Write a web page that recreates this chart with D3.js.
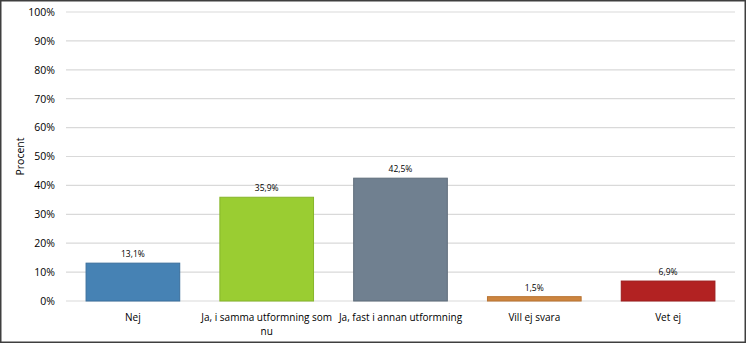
<!DOCTYPE html>
<html>
<head>
<meta charset="utf-8">
<script src="https://cdn.jsdelivr.net/npm/d3@7"></script>
<style>
  body { margin: 0; background: #fff; }
  svg { display: block; font-family: "Open Sans", sans-serif; }
</style>
</head>
<body>
<svg id="chart" width="746" height="344"></svg>
<script>
var categories = ["Nej", "Ja, i samma utformning som nu", "Ja, fast i annan utformning", "Vill ej svara", "Vet ej"];
var values = [13.1, 35.9, 42.5, 1.5, 6.9];
var valueLabels = ["13,1%", "35,9%", "42,5%", "1,5%", "6,9%"];
var yTicks = [0, 10, 20, 30, 40, 50, 60, 70, 80, 90, 100];
var colors = ["#4682B4", "#9ACD32", "#708090", "#CD853F", "#B22222"];
var strokes = ["#3a6f9c", "#86b52a", "#5f6d7b", "#b87332", "#9c1c1c"];

var WIDTH = 746, HEIGHT = 344,
    MARGINS = { top: 12, right: 11, bottom: 43, left: 66 };

var svg = d3.select("#chart");

svg.append("rect")
   .attr("x", 0.75).attr("y", 0.75)
   .attr("width", WIDTH - 1.5).attr("height", HEIGHT - 2.5)
   .attr("fill", "#fff")
   .attr("stroke", "#3f3f3f")
   .attr("stroke-width", 1.5);

var xScale = d3.scaleBand()
    .domain(categories)
    .range([MARGINS.left, WIDTH - MARGINS.right])
    .paddingInner(0.3)
    .paddingOuter(0.15);

var yScale = d3.scaleLinear()
    .domain([0, 100])
    .range([HEIGHT - MARGINS.bottom, MARGINS.top]);

// grid
svg.append("g")
   .selectAll("line")
   .data(yTicks)
   .enter().append("line")
   .attr("x1", MARGINS.left)
   .attr("x2", WIDTH - MARGINS.right)
   .attr("y1", function(d) { return yScale(d); })
   .attr("y2", function(d) { return yScale(d); })
   .attr("stroke", "#d9d9d9")
   .attr("stroke-width", 1.2);

// y axis
var yAxis = d3.axisLeft(yScale)
    .tickValues(yTicks)
    .tickSize(0)
    .tickPadding(11)
    .tickFormat(function(d) { return d + "%"; });

var gy = svg.append("g")
   .attr("transform", "translate(" + MARGINS.left + ",0)")
   .call(yAxis);
gy.select(".domain").remove();
gy.selectAll("text")
  .attr("font-size", 10.5)
  .attr("font-family", "Open Sans, sans-serif")
  .attr("fill", "#000");

svg.append("text")
   .attr("transform", "translate(24," + yScale(50) + ") rotate(-90)")
   .attr("text-anchor", "middle")
   .attr("font-size", 10.5)
   .text("Procent");

// bars
svg.selectAll(".bar")
   .data(values)
   .enter().append("rect")
   .attr("class", "bar")
   .attr("x", function(d, i) { return xScale(categories[i]); })
   .attr("width", xScale.bandwidth())
   .attr("y", function(d) { return yScale(d); })
   .attr("height", function(d) { return yScale(0) - yScale(d); })
   .attr("fill", function(d, i) { return colors[i]; })
   .attr("stroke", function(d, i) { return strokes[i]; })
   .attr("stroke-width", 1);

// value labels
svg.selectAll(".vlabel")
   .data(values)
   .enter().append("text")
   .attr("class", "vlabel")
   .attr("x", function(d, i) { return xScale(categories[i]) + xScale.bandwidth() / 2; })
   .attr("y", function(d) { return yScale(d) - 6; })
   .attr("text-anchor", "middle")
   .attr("font-size", 8.5)
   .attr("fill", "#000")
   .text(function(d, i) { return valueLabels[i]; });

// category labels, wrapped like the original
var bandStep = xScale.step();
svg.selectAll(".clabel")
   .data(categories)
   .enter().append("text")
   .attr("class", "clabel")
   .attr("x", function(d) { return xScale(d) + xScale.bandwidth() / 2; })
   .attr("y", yScale(0) + 20)
   .attr("text-anchor", "middle")
   .attr("font-size", 10)
   .each(function(d) {
       var t = d3.select(this), words = d.split(" "), line = [], lines = [];
       var tmp = t.append("tspan");
       words.forEach(function(w) {
           line.push(w);
           tmp.text(line.join(" "));
           if (tmp.node().getComputedTextLength() > bandStep + 4 && line.length > 1) {
               line.pop();
               lines.push(line.join(" "));
               line = [w];
           }
       });
       lines.push(line.join(" "));
       tmp.remove();
       lines.forEach(function(l, k) {
           t.append("tspan")
            .attr("x", t.attr("x"))
            .attr("dy", k === 0 ? 0 : 14)
            .text(l);
       });
   });
</script>
</body>
</html>
